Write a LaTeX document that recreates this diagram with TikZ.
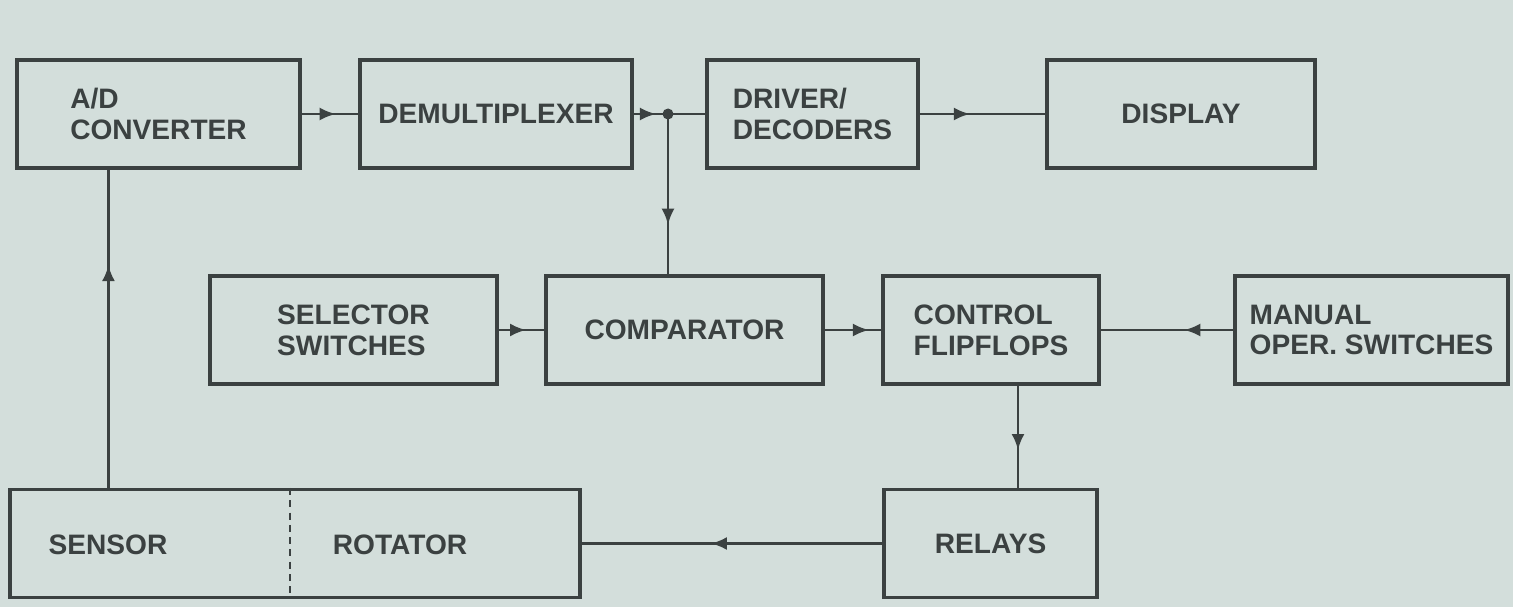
\documentclass[tikz,border=0pt]{standalone}
\usepackage{fontspec}
\setmainfont{Liberation Sans}
\usepackage{tikz}
\usetikzlibrary{arrows.meta,decorations.markings}
\definecolor{paper}{HTML}{D3DEDB}
\definecolor{ink}{HTML}{3B4141}
\tikzset{
  blk/.style={draw=ink,line width=1.8pt,text=ink,align=left,inner sep=0pt,
    minimum height=2.16cm,font=\fontsize{16}{17.5}\selectfont\bfseries},
  lbl/.style={text=ink,inner sep=0pt,font=\fontsize{16}{17.5}\selectfont\bfseries},
  wire/.style={draw=ink,line width=1.5pt},
  tipat/.style={decoration={markings,
      mark=at position #1 with {\arrow{Latex[length=0.32cm,width=0.26cm]}}},
    postaction={decorate}},
}

\begin{document}
\begin{tikzpicture}[x=0.02cm,y=-0.02cm]
  \fill[paper] (0,0) rectangle (1513,607);
  \useasboundingbox (0,0) rectangle (1513,607);

  % top row
  \node[blk,minimum width=5.66cm] (ad) at (158.5,114) {A/D\\CONVERTER};
  \node[blk,minimum width=5.44cm] (demux) at (496,114) {DEMULTIPLEXER};
  \node[blk,minimum width=4.22cm] (drv) at (812.5,114) {DRIVER/\\DECODERS};
  \node[blk,minimum width=5.36cm] (disp) at (1181,114) {DISPLAY};

  % middle row
  \node[blk,minimum width=5.74cm] (sel) at (353.5,330) {SELECTOR\\SWITCHES};
  \node[blk,minimum width=5.54cm] (comp) at (684.5,330) {COMPARATOR};
  \node[blk,minimum width=4.32cm] (cff) at (991,330) {CONTROL\\FLIPFLOPS};
  \node[blk,minimum width=5.46cm] (man) at (1371.5,330) {MANUAL\\OPER. SWITCHES};

  % bottom row
  \node[blk,minimum width=11.4cm] (sr) at (295,543.5) {};
  \draw[ink,line width=1.4pt,dash pattern=on 4pt off 3pt] ([xshift=-0.1cm]sr.north) -- ([xshift=-0.1cm,yshift=0.03cm]sr.south);
  \node[lbl] (sensor) at (108,545) {SENSOR};
  \node[lbl] (rotator) at (400,545) {ROTATOR};
  \node[blk,minimum width=4.26cm] (rel) at (990.5,543.5) {RELAYS};

  % connectors
  \coordinate (jn) at (668,114);
  \draw[wire,tipat=0.6] (ad) -- (demux);
  \draw[wire,tipat=0.65] (demux) -- (jn);
  \draw[wire] (jn) -- (drv);
  \fill[ink] (jn) circle[radius=0.11cm];
  \draw[wire,tipat=0.69] (jn) -- (jn |- comp.north);
  \draw[wire,tipat=0.4] (drv) -- (disp);
  \draw[wire,tipat=0.6] (sel) -- (comp);
  \draw[wire,tipat=0.78] (comp) -- (cff);
  \draw[wire,tipat=0.37] (man) -- (cff);
  \draw[wire,tipat=0.63] ([xshift=0.54cm]cff.south) -- ([xshift=0.54cm]cff.south |- rel.north);
  \draw[wire,tipat=0.57] (rel) -- (sr);
  \draw[wire,tipat=0.7] ([xshift=2cm]sr.north west) -- ([xshift=2cm]sr.north west |- ad.south);
\end{tikzpicture}
\end{document}
